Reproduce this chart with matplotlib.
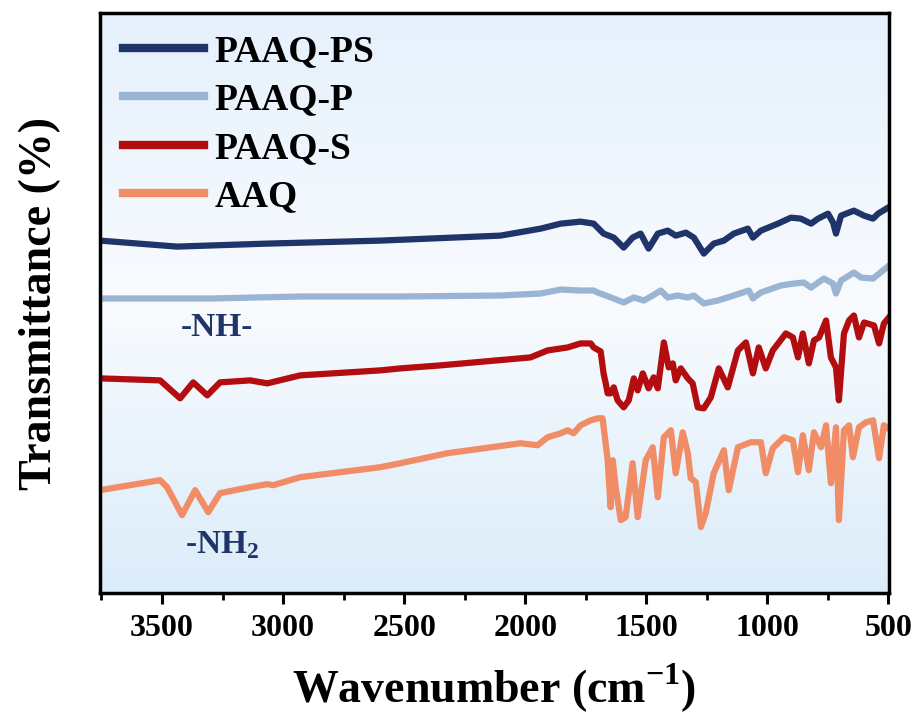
import numpy as np
import matplotlib.pyplot as plt
from matplotlib.colors import LinearSegmentedColormap
from matplotlib.ticker import MultipleLocator

plt.rcParams['font.family'] = 'Liberation Serif'
plt.rcParams['font.weight'] = 'bold'
plt.rcParams['mathtext.fontset'] = 'custom'
plt.rcParams['mathtext.rm'] = 'Liberation Serif:bold'
plt.rcParams['mathtext.bf'] = 'Liberation Serif:bold'

# spectra (offset, arbitrary units)
wn_ps = [3756, 3438, 3065, 2598, 2102, 1936, 1853, 1771, 1717, 1676, 1634, 1593, 1556, 1523, 1490,
         1452, 1411, 1378, 1336, 1303, 1262, 1221, 1179, 1138, 1080, 1059, 1026, 956, 902, 861,
         819, 790, 749, 728, 716, 695, 642, 600, 563, 542, 501]
t_ps = [377, 371, 374, 377, 382, 389, 394, 396, 394, 384, 380, 370, 380, 384, 369,
        384, 387, 382, 385, 380, 364, 374, 377, 384, 389, 380, 387, 394, 400, 399,
        394, 399, 404, 395, 384, 402, 407, 402, 399, 404, 410]

wn_p = [3756, 3300, 2929, 2515, 2102, 1936, 1853, 1771, 1717, 1700, 1634, 1593, 1551, 1510, 1473,
        1440, 1411, 1370, 1328, 1303, 1262, 1204, 1138, 1076, 1059, 1026, 944, 890, 849, 819,
        766, 728, 716, 695, 642, 613, 563, 497]
t_p = [319, 319, 321, 321, 322, 324, 328, 327, 327, 325, 319, 315, 320, 317, 322,
       327, 320, 322, 320, 322, 314, 317, 322, 327, 319, 325, 332, 334, 335, 330,
       339, 334, 324, 337, 345, 340, 339, 352]

wn_s = [3756, 3508, 3425, 3371, 3313, 3260, 3136, 3065, 2929, 2598, 2515, 2350, 1978, 1907, 1824,
        1771, 1729, 1717, 1688, 1676, 1667, 1659, 1647, 1634, 1618, 1593, 1572, 1551, 1535, 1514,
        1490, 1469, 1452, 1427, 1407, 1390, 1378, 1357, 1328, 1308, 1287, 1262, 1233, 1200, 1163,
        1121, 1088, 1059, 1035, 1006, 977, 923, 894, 873, 853, 828, 807, 786, 757, 737,
        716, 704, 683, 662, 642, 621, 600, 559, 538, 518, 501]
t_s = [239, 237, 219, 235, 222, 235, 237, 234, 242, 247, 249, 252, 260, 267, 270,
       274, 274, 270, 266, 244, 234, 224, 224, 230, 217, 210, 217, 239, 227, 244,
       229, 240, 229, 275, 250, 254, 237, 249, 239, 234, 210, 209, 220, 249, 230,
       267, 275, 244, 270, 249, 267, 284, 280, 260, 284, 254, 277, 280, 297, 260,
       250, 217, 284, 297, 302, 280, 295, 292, 274, 294, 299]

wn_aaq = [3756, 3508, 3479, 3417, 3363, 3309, 3260, 3136, 3065, 3040, 2929, 2598, 2515, 2321, 2019,
          1949, 1907, 1853, 1824, 1800, 1771, 1729, 1700, 1680, 1659, 1647, 1638, 1626, 1605, 1585,
          1556, 1535, 1502, 1473, 1452, 1427, 1398, 1378, 1349, 1328, 1316, 1295, 1274, 1254, 1221,
          1179, 1159, 1121, 1068, 1026, 1006, 977, 931, 894, 873, 853, 828, 807, 778, 757,
          737, 716, 704, 683, 662, 646, 621, 592, 563, 538, 518, 501]
t_aaq = [127, 137, 130, 102, 127, 105, 124, 130, 133, 132, 140, 150, 154, 164, 174,
         172, 180, 184, 187, 184, 192, 197, 199, 199, 157, 110, 157, 130, 97, 100,
         154, 100, 157, 170, 120, 180, 187, 144, 185, 164, 139, 135, 90, 104, 144,
         167, 127, 170, 175, 175, 144, 169, 180, 177, 145, 182, 147, 185, 170, 192,
         134, 190, 97, 187, 192, 160, 190, 195, 197, 159, 192, 189]

labels = ['PAAQ-PS', 'PAAQ-P', 'PAAQ-S', 'AAQ']
colors = ['#1f3468', '#9ab5d3', '#b30d0f', '#f08c66']

fig = plt.figure(figsize=(9.22, 7.24), dpi=100)
ax = fig.add_axes([100/922, 1 - 593/724, 789/922, 580/724])

# background gradient
grad = LinearSegmentedColormap.from_list('bg', ['#dbecf9', '#f9fbfe', '#e5f1fc'])
ax.imshow(np.linspace(0, 1, 256).reshape(-1, 1), cmap=grad, aspect='auto',
          extent=[0, 1, 0, 1], transform=ax.transAxes, origin='lower', zorder=0)

series = [(wn_ps, t_ps), (wn_p, t_p), (wn_s, t_s), (wn_aaq, t_aaq)]
for (x, y), lab, c in zip(series, labels, colors):
    ax.plot(x, y, color=c, lw=4.5, label=lab, zorder=2, solid_joinstyle='round')

ax.set_xlim(3756, 497)
ax.set_ylim(24, 605)
ax.xaxis.set_major_locator(MultipleLocator(500))
ax.xaxis.set_minor_locator(MultipleLocator(250))
ax.tick_params(axis='x', which='major', direction='out', length=8, width=2.2, labelsize=23, pad=7)
ax.tick_params(axis='x', which='minor', direction='out', length=5, width=2)
ax.set_yticks([])
for sp in ax.spines.values():
    sp.set_linewidth(2.5)

ax.set_xlabel('Wavenumber (cm$^{-1}$)', fontsize=33, fontweight='bold', labelpad=14)
ax.set_ylabel('Transmittance (%)', fontsize=33, fontweight='bold', labelpad=28)

fig.text(217/922, 1 - 328/724, '-NH-', fontsize=24, fontweight='bold',
         color='#1f3468', ha='center', va='center')
fig.text(222/922, 1 - 545/724, '-NH$_2$', fontsize=24, fontweight='bold',
         color='#1f3468', ha='center', va='center')

leg = ax.legend(loc='upper left', frameon=False, fontsize=27, handlelength=2.15,
                handletextpad=0.3, labelspacing=0.36, borderaxespad=0.0,
                bbox_to_anchor=(0.01, 0.99))
for h in leg.get_lines():
    h.set_linewidth(6)

fig.savefig('out.png', dpi=100)
